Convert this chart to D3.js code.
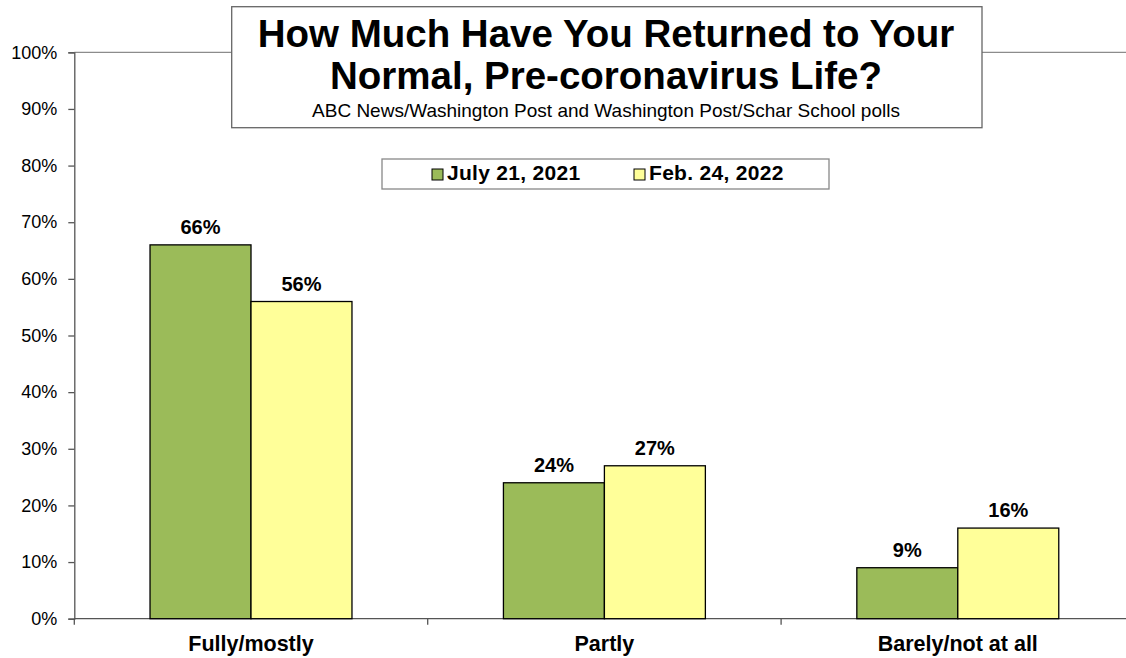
<!DOCTYPE html>
<html>
<head>
<meta charset="utf-8">
<script src="https://cdn.jsdelivr.net/npm/d3@7"></script>
<style>
  body { margin: 0; background: #fff; }
  svg { display: block; font-family: "Liberation Sans", Arial, sans-serif; }
</style>
</head>
<body>
<svg id="chart"></svg>
<script>
// chart data
const categories = ['Fully/mostly', 'Partly', 'Barely/not at all'];
const seriesNames = ['July 21, 2021', 'Feb. 24, 2022'];
const july2021 = [66, 24, 9];
const feb2022 = [56, 27, 16];
const yTicks = [0, 10, 20, 30, 40, 50, 60, 70, 80, 90, 100];
const colors = ['#9bbb59', '#ffff99'];

const width = 1126;
const height = 658;
const margin = { top: 52.3, left: 74.3, bottom: 39.3 };
const bandWidth = 353.4;

const svg = d3.select('#chart').attr('width', width).attr('height', height);

// scales
const y = d3.scaleLinear()
  .domain([0, 100])
  .range([height - margin.bottom, margin.top]);

const x0 = d3.scaleBand()
  .domain(categories)
  .range([margin.left, margin.left + bandWidth * categories.length])
  .padding(0);

const x1 = d3.scaleBand()
  .domain(seriesNames)
  .range([0, x0.bandwidth()])
  .paddingInner(0)
  .paddingOuter(0.75);

// build rows from the arrays
const rows = categories.map((c, i) => ({
  category: c,
  values: [
    { series: seriesNames[0], value: july2021[i], color: colors[0] },
    { series: seriesNames[1], value: feb2022[i], color: colors[1] },
  ],
}));

// plot area top border
svg.append('line')
  .attr('x1', margin.left).attr('x2', width)
  .attr('y1', y(100)).attr('y2', y(100))
  .attr('stroke', '#8c8c8c').attr('stroke-width', 1.3);

// y axis
const yAxis = svg.append('g')
  .attr('transform', `translate(${margin.left},0)`)
  .call(d3.axisLeft(y).tickValues(yTicks).tickFormat((d) => d + '%').tickSize(6).tickPadding(11));
yAxis.select('.domain').attr('stroke', '#555').attr('stroke-width', 1.3);
yAxis.selectAll('.tick line').attr('stroke', '#555').attr('stroke-width', 1.3);
yAxis.selectAll('.tick text')
  .attr('fill', '#000')
  .style('font-size', '18px')
  .style('font-family', '"Liberation Sans", Arial, sans-serif');

// x axis: baseline + ticks between categories
const xAxis = svg.append('g');
xAxis.append('line')
  .attr('x1', margin.left).attr('x2', width)
  .attr('y1', y(0)).attr('y2', y(0))
  .attr('stroke', '#555').attr('stroke-width', 1.3);
xAxis.selectAll('.cat-tick')
  .data(categories)
  .join('line')
  .attr('class', 'cat-tick')
  .attr('x1', (d) => x0(d)).attr('x2', (d) => x0(d))
  .attr('y1', y(0)).attr('y2', y(0) + 6)
  .attr('stroke', '#555').attr('stroke-width', 1.3);
xAxis.selectAll('.cat-label')
  .data(categories)
  .join('text')
  .attr('class', 'cat-label')
  .attr('x', (d) => x0(d) + x0.bandwidth() / 2)
  .attr('y', 651)
  .attr('text-anchor', 'middle')
  .style('font-size', '21.5px')
  .style('font-weight', 'bold')
  .text((d) => d);

// bars
const groups = svg.selectAll('.group')
  .data(rows)
  .join('g')
  .attr('class', 'group')
  .attr('transform', (d) => `translate(${x0(d.category)},0)`);

groups.selectAll('rect')
  .data((d) => d.values)
  .join('rect')
  .attr('x', (d) => x1(d.series))
  .attr('width', x1.bandwidth())
  .attr('y', (d) => y(d.value))
  .attr('height', (d) => y(0) - y(d.value))
  .attr('fill', (d) => d.color)
  .attr('stroke', '#000')
  .attr('stroke-width', 1.3);

groups.selectAll('.value-label')
  .data((d) => d.values)
  .join('text')
  .attr('class', 'value-label')
  .attr('x', (d) => x1(d.series) + x1.bandwidth() / 2)
  .attr('y', (d) => y(d.value) - 11)
  .attr('text-anchor', 'middle')
  .style('font-size', '20px')
  .style('font-weight', 'bold')
  .text((d) => d.value + '%');

// title box
const titleBox = svg.append('g');
titleBox.append('rect')
  .attr('x', 231.7).attr('y', 6.7)
  .attr('width', 750.3).attr('height', 121)
  .attr('fill', '#fff')
  .attr('stroke', '#666').attr('stroke-width', 1.3);
titleBox.append('text')
  .attr('x', 606).attr('y', 47)
  .attr('text-anchor', 'middle')
  .style('font-size', '38.5px').style('font-weight', 'bold')
  .text('How Much Have You Returned to Your');
titleBox.append('text')
  .attr('x', 606).attr('y', 89)
  .attr('text-anchor', 'middle')
  .style('font-size', '38.5px').style('font-weight', 'bold')
  .text('Normal, Pre-coronavirus Life?');
titleBox.append('text')
  .attr('x', 606).attr('y', 117)
  .attr('text-anchor', 'middle')
  .style('font-size', '19px')
  .text('ABC News/Washington Post and Washington Post/Schar School polls');

// legend
const legend = svg.append('g');
legend.append('rect')
  .attr('x', 382).attr('y', 159)
  .attr('width', 447).attr('height', 30)
  .attr('fill', '#fff')
  .attr('stroke', '#888').attr('stroke-width', 1.3);
const legendX = [432, 634];
const legendItems = legend.selectAll('.legend-item')
  .data(seriesNames)
  .join('g')
  .attr('class', 'legend-item')
  .attr('transform', (d, i) => `translate(${legendX[i]},169)`);
legendItems.append('rect')
  .attr('width', 11).attr('height', 11)
  .attr('fill', (d, i) => colors[i])
  .attr('stroke', '#000').attr('stroke-width', 1);
legendItems.append('text')
  .attr('x', 15).attr('y', 11)
  .style('font-size', '21px').style('font-weight', 'bold')
  .style('letter-spacing', '0.3px')
  .text((d) => d);
</script>
</body>
</html>
